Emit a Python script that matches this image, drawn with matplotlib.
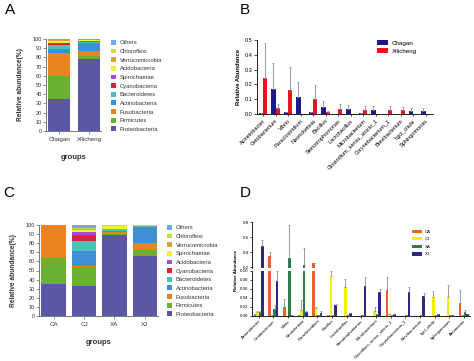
import numpy as np
import matplotlib
matplotlib.use("Agg")
import matplotlib.pyplot as plt

plt.rcParams["font.family"] = ["Liberation Sans", "DejaVu Sans"]

W, H = 474, 361  # figure size in pixels

# ------------------------------------------------------------
# data: A (phylum composition, 2 sites)
# ------------------------------------------------------------
groups_A = ["Chagan", "Xilicheng"]
phyla_A = ["Proteobacteria", "Firmicutes", "Fusobacteria", "Actinobacteria",
           "Bacteroidetes", "Cyanobacteria", "Spirochaetae", "Acidobacteria",
           "Verrucomicrobia", "Chloroflexi", "Others"]
comp_A = {
    "Chagan":    [34.5, 25.5, 24.7, 4.3, 4.8, 1.8, 0.4, 2.0, 0.5, 0.5, 1.0],
    "Xilicheng": [78.0, 3.5, 5.0, 9.0, 1.5, 0.2, 1.0, 0.3, 0.2, 0.2, 1.1],
}

# data: C (phylum composition, 4 groups)
groups_C = ["CA", "CJ", "XA", "XJ"]
phyla_C = ["Proteobacteria", "Firmicutes", "Fusobacteria", "Actinobacteria",
           "Bacteroidetes", "Cyanobacteria", "Acidobacteria", "Spirochaetae",
           "Verrucomicrobia", "Chloroflexi", "Others"]
comp_C = {
    "CA": [35.0, 29.0, 35.6, 0.1, 0.1, 0.0, 0.0, 0.0, 0.0, 0.0, 0.2],
    "CJ": [33.0, 20.5, 1.5, 16.4, 11.0, 6.6, 3.7, 1.8, 1.1, 0.7, 3.7],
    "XA": [89.0, 1.5, 2.0, 1.0, 2.0, 0.2, 0.3, 2.5, 0.5, 0.5, 0.5],
    "XJ": [66.0, 6.0, 8.5, 17.0, 1.0, 0.2, 0.2, 0.2, 0.2, 0.2, 0.5],
}
stack_colors = ["#5B57A6", "#6BB131", "#EA8420", "#3F8FD6", "#4FC1B9", "#D7262F",
                "#A24DD6", "#F1F233", "#D9A441", "#C5DE3F", "#6FA9EA"]

# data: B (genus relative abundance, 2 sites)
genera_B = ["Acinetobacter", "Cetobacterium", "Vibrio", "Paraclostridium", "Neorickettsia",
            "Bacillus", "Stenotrophomonas", "Lactobacillus", "Microbacterium",
            "Clostridium_sensu_stricto_1", "Corynebacterium_1", "Brevibacterium",
            "hgcI_clade", "Sphingomonas"]
chagan_mean = [0.005, 0.170, 0.013, 0.112, 0.011, 0.045, 0.001, 0.034, 0.004, 0.029, 0.001, 0.001, 0.022, 0.022]
chagan_sd   = [0.0,   0.173, 0.0,   0.101, 0.0,   0.045, 0.0,   0.029, 0.0,   0.027, 0.0,   0.0,   0.018, 0.018]
xili_mean   = [0.242, 0.040, 0.161, 0.002, 0.103, 0.013, 0.036, 0.002, 0.029, 0.002, 0.029, 0.025, 0.002, 0.001]
xili_sd     = [0.235, 0.030, 0.157, 0.0,   0.094, 0.007, 0.031, 0.0,   0.027, 0.0,   0.025, 0.022, 0.0,   0.0]

# data: D (genus relative abundance, 4 groups)
genera_D = ["Acinetobacter", "Cetobacterium", "Vibrio", "Neorickettsia", "Paraclostridium",
            "Bacillus", "Lactobacillus", "Stenotrophomonas", "Microbacterium",
            "Clostridium_sensu_stricto_1", "Corynebacterium_1", "Brevibacterium",
            "hgcI_clade", "Sphingomonas", "Aeromonas"]
groups_D = ["CA", "CJ", "XA", "XJ"]
mean_D = {
    "CA": [0.003, 0.350, 0.019, 0.001, 0.250, 0.001, 0.0,   0.0,   0.0,   0.058, 0.0,   0.0,   0.0,   0.0,   0.029],
    "CJ": [0.008, 0.001, 0.0,   0.013, 0.016, 0.089, 0.064, 0.0,   0.009, 0.003, 0.0,   0.0,   0.042, 0.041, 0.002],
    "XA": [0.008, 0.014, 0.316, 0.227, 0.001, 0.002, 0.002, 0.001, 0.003, 0.001, 0.002, 0.001, 0.001, 0.001, 0.008],
    "XJ": [0.480, 0.077, 0.001, 0.007, 0.006, 0.023, 0.005, 0.067, 0.053, 0.003, 0.052, 0.044, 0.003, 0.002, 0.004],
}
sd_D = {
    "CA": [0.0,   0.050, 0.017, 0.0,   0.010, 0.0,   0.0,   0.0,   0.0,   0.028, 0.0,   0.0,   0.0,   0.0,   0.029],
    "CJ": [0.002, 0.0,   0.0,   0.022, 0.004, 0.011, 0.019, 0.0,   0.009, 0.0,   0.0,   0.0,   0.014, 0.027, 0.0],
    "XA": [0.002, 0.009, 0.444, 0.223, 0.0,   0.0,   0.0,   0.0,   0.0,   0.0,   0.0,   0.0,   0.0,   0.0,   0.005],
    "XJ": [0.080, 0.023, 0.0,   0.004, 0.005, 0.003, 0.0,   0.019, 0.006, 0.0,   0.012, 0.006, 0.0,   0.0,   0.0],
}
colors_D = {"CA": "#F0602C", "CJ": "#F2EE1C", "XA": "#2F7A4E", "XJ": "#2B2888"}


fig = plt.figure(figsize=(W / 100, H / 100), dpi=100)


def px_axes(l, t, r, b):
    return fig.add_axes([l / W, 1 - b / H, (r - l) / W, (b - t) / H])


def stacked(ax, groups, phyla, comp, colors, xlim, width):
    x = np.arange(len(groups))
    bottom = np.zeros(len(groups))
    for i, ph in enumerate(phyla):
        vals = np.array([comp[g][i] for g in groups])
        ax.bar(x, vals, width, bottom=bottom, color=colors[i], label=ph, linewidth=0)
        bottom += vals
    ax.set_xlim(*xlim)
    ax.set_ylim(0, 100)
    ax.set_yticks(np.arange(0, 101, 10))
    ax.set_xticks(x)
    ax.set_xticklabels(groups, fontsize=4.5, color="#333333")
    ax.tick_params(axis="y", labelsize=4, length=2, width=0.5, colors="#666666", labelcolor="#333333", pad=1)
    ax.tick_params(axis="x", length=2, width=0.5, colors="#666666", labelcolor="#333333", pad=2)
    for s in ["top", "right"]:
        ax.spines[s].set_visible(False)
    for s in ["left", "bottom"]:
        ax.spines[s].set_color("#777777")
        ax.spines[s].set_linewidth(0.7)
    ax.set_xlabel("groups", fontsize=5.5, fontweight="bold", color="#333333", labelpad=9)
    ax.set_ylabel("Relative abundance(%)", fontsize=4.8, fontweight="bold", color="#333333", labelpad=6)


def legend_stack(ax, x_px, y_px):
    h, l = ax.get_legend_handles_labels()
    ax.legend(h[::-1], l[::-1], loc="upper left", bbox_to_anchor=(x_px / W, 1 - y_px / H),
              bbox_transform=fig.transFigure, frameon=False, fontsize=4.2,
              handlelength=0.9, handleheight=0.9, handletextpad=0.6, labelspacing=0.55,
              borderpad=0, borderaxespad=0, labelcolor="#333333")


# ---------------- A ----------------
axA = px_axes(46, 39, 101, 131)
stacked(axA, groups_A, phyla_A, comp_A, stack_colors, (-0.45, 1.4), 0.74)
legend_stack(axA, 111, 40)
fig.text(5 / W, 1 - 14 / H, "A", fontsize=11)

# ---------------- C ----------------
axC = px_axes(39, 225, 158, 316)
stacked(axC, groups_C, phyla_C, comp_C, stack_colors, (-0.48, 3.43), 0.8)
legend_stack(axC, 167, 225)
fig.text(3 / W, 1 - 197 / H, "C", fontsize=11)

# ---------------- B ----------------
axB = px_axes(257, 40, 433, 114)
xb = np.arange(len(genera_B))
bw = 0.34
err_kw = dict(ecolor="#9a9a9a", elinewidth=0.7, capsize=1.0, capthick=0.6)
axB.bar(xb - bw / 2, chagan_mean, bw, color="#1C1B8C", label="Chagan",
        yerr=[np.zeros(len(xb)), chagan_sd], error_kw=err_kw, linewidth=0)
axB.bar(xb + bw / 2, xili_mean, bw, color="#E8141E", label="Xilicheng",
        yerr=[np.zeros(len(xb)), xili_sd], error_kw=err_kw, linewidth=0)
axB.set_xlim(-0.48, 13.6)
axB.set_ylim(0, 0.5)
axB.set_yticks([0.0, 0.1, 0.2, 0.3, 0.4, 0.5])
axB.set_yticklabels(["0.0", "0.1", "0.2", "0.3", "0.4", "0.5"])
axB.set_xticks(xb)
axB.set_xticklabels(genera_B, rotation=45, ha="right", rotation_mode="anchor", fontsize=4)
axB.tick_params(axis="y", labelsize=4, length=2, width=0.5, pad=1)
axB.tick_params(axis="x", length=1.5, width=0.5, pad=1.5)
for s in ["top", "right"]:
    axB.spines[s].set_visible(False)
for s in ["left", "bottom"]:
    axB.spines[s].set_linewidth(0.6)
axB.set_ylabel("Relative Abundance", fontsize=4.2, fontweight="bold", labelpad=3)
axB.legend(loc="upper left", bbox_to_anchor=(377 / W, 1 - 40 / H), bbox_transform=fig.transFigure,
           frameon=False, fontsize=4.5, handlelength=1.7, handleheight=0.8, handletextpad=0.7,
           labelspacing=0.45, borderpad=0, borderaxespad=0)
fig.text(240 / W, 1 - 14 / H, "B", fontsize=11)

# ---------------- D (broken y axis) ----------------
axD_top = px_axes(252, 222, 470, 267.8)
axD = px_axes(252, 271, 470, 315.5)
xd = np.arange(len(genera_D))
dw = 0.17
offs = [-1.5 * dw, -0.5 * dw, 0.5 * dw, 1.5 * dw]
err_d = dict(ecolor="#8c8c8c", elinewidth=0.6, capsize=0.8, capthick=0.5)
for ax in (axD_top, axD):
    for g, off in zip(groups_D, offs):
        ax.bar(xd + off, mean_D[g], dw, color=colors_D[g], label=g, linewidth=0,
               yerr=[np.zeros(len(xd)), sd_D[g]], error_kw=err_d)
    ax.set_xlim(-0.46, 14.42)
    for s in ["top", "right"]:
        ax.spines[s].set_visible(False)
    ax.spines["left"].set_linewidth(0.6)
    ax.tick_params(axis="y", labelsize=3.2, length=1.5, width=0.5, pad=1)

axD_top.set_ylim(0.19, 0.8)
axD_top.set_yticks([0.2, 0.4, 0.6, 0.8])
axD_top.set_yticklabels(["0.2", "0.4", "0.6", "0.8"])
axD_top.spines["bottom"].set_visible(False)
axD_top.set_xticks([])
axD_top.legend(loc="upper left", bbox_to_anchor=(412 / W, 1 - 229.5 / H), bbox_transform=fig.transFigure,
               frameon=False, fontsize=3.2, handlelength=2.2, handleheight=0.8, handletextpad=0.6,
               labelspacing=0.75, borderpad=0, borderaxespad=0)

axD.set_ylim(0, 0.1)
axD.set_yticks([0.0, 0.02, 0.04, 0.06, 0.08, 0.10])
axD.set_yticklabels(["0.00", "0.02", "0.04", "0.06", "0.08", "0.10"])
axD.spines["bottom"].set_linewidth(0.6)
axD.set_xticks(xd)
axD.set_xticklabels(genera_D, rotation=45, ha="right", rotation_mode="anchor", fontsize=3.1)
axD.tick_params(axis="x", length=1.5, width=0.5, pad=1)
fig.text(236 / W, 1 - 270 / H, "Relative Abundance", rotation=90, fontsize=3.2,
         fontweight="bold", ha="center", va="center")
fig.text(240 / W, 1 - 197 / H, "D", fontsize=11)

fig.savefig("out.png", dpi=100)
